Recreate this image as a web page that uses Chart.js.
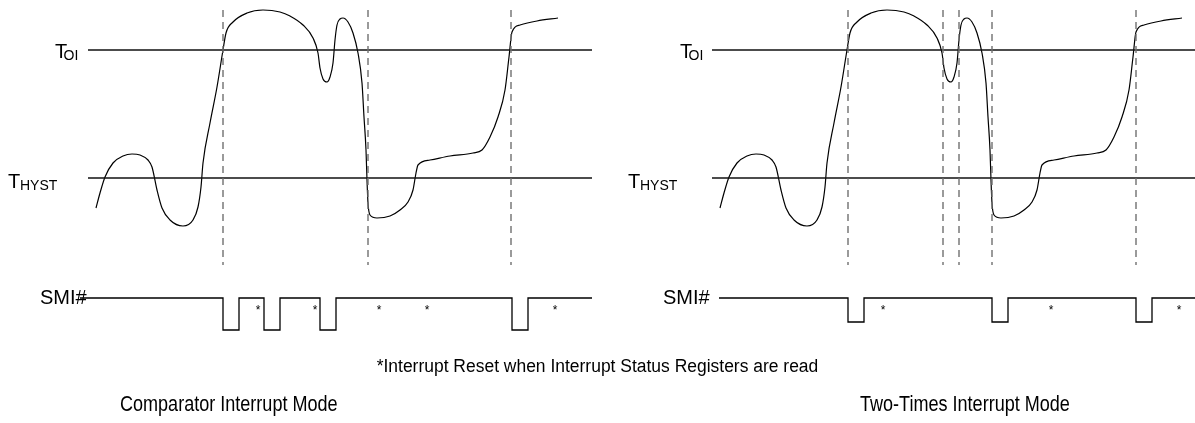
<!DOCTYPE html>
<html>
<head>
<meta charset="utf-8">
<script src="https://cdn.jsdelivr.net/npm/chart.js@4.4.1/dist/chart.umd.min.js"></script>
<style>
  body { margin: 0; background: #fff; }
  #wrap { position: relative; width: 1195px; height: 423px; font-family: "Liberation Sans", Arial, sans-serif; color: #000; }
  canvas { position: absolute; top: 0; }
  .txt { position: absolute; white-space: nowrap; }
  .title { font-size: 22px; transform: scaleX(0.82); transform-origin: left top; }
</style>
</head>
<body>
<div id="wrap">
  <canvas id="comp" width="600" height="423" style="left:0"></canvas>
  <canvas id="two" width="595" height="423" style="left:600px"></canvas>
  <div class="txt" style="left:0;width:1195px;top:356px;text-align:center;font-size:18px;transform:scaleX(0.97)">*Interrupt Reset when Interrupt Status Registers are read</div>
  <div class="txt title" style="left:120px;top:391px">Comparator Interrupt Mode</div>
  <div class="txt title" style="left:860px;top:391px">Two-Times Interrupt Mode</div>
</div>
<script>
// temperature trace (same in both modes): time vs level (level grows downward)
const tempTime  = [96,100,105,113,123,132,140,148,152,157,162,170,183,193,198,201,203,210,217,223,226,233,247,263,280,290,303,313,318,320,323,327,330,333,335,337,340,343,348,353,358,362,364,366,367,368,370,377,390,400,408,413,416,418,430,450,473,482,490,498,505,509,512,520,537,558];
const tempLevel = [208,193,177,163,156,154,155,160,167,190,208,220,226,220,207,187,163,123,87,50,33,22,13,10,12,16,25,38,53,68,79,82,77,63,40,25,19,18,22,33,53,83,117,150,180,203,215,218,216,210,202,190,173,165,160,156,153,150,137,117,90,57,32,25,21,18];

const T_OI = 50;
const T_HYST = 178;
const thresholdSpan = [88, 592];

const SMI_HIGH = 298;

// comparator mode
const compMarkers = [223, 368, 511];
const compPulses  = [223, 264, 320, 512];
const compStars   = [258, 315, 379, 427, 555];
const compSmiSpan = [80, 592];
const compSmiLow  = 330;

// two-times mode
const twoMarkers = [224, 319, 335, 368, 512];
const twoPulses  = [224, 368, 512];
const twoStars   = [259, 427, 555];
const twoSmiSpan = [95, 592];
const twoSmiLow  = 322;

const PULSE_W = 16;

const FONT = '"Liberation Sans", Arial, sans-serif';

const diagramText = {
  id: 'diagramText',
  afterDatasetsDraw(chart, args, opts) {
    const ctx = chart.ctx;
    const x = chart.scales.x, y = chart.scales.y;
    ctx.save();
    ctx.fillStyle = '#000';
    ctx.textBaseline = 'alphabetic';
    ctx.textAlign = 'left';
    const sub = (main, s, t, base, off) => {
      const px = x.getPixelForValue(t);
      ctx.font = '20px ' + FONT;
      ctx.fillText(main, px, y.getPixelForValue(base));
      ctx.font = '14px ' + FONT;
      ctx.fillText(s, px + off, y.getPixelForValue(base + 1.5));
    };
    sub('T', 'OI', opts.tOiX, T_OI + 8, 8.5);
    sub('T', 'HYST', opts.tHystX, T_HYST + 10, 12);
    ctx.font = '20px ' + FONT;
    ctx.fillText('SMI#', x.getPixelForValue(opts.smiX), y.getPixelForValue(SMI_HIGH + 6));
    ctx.font = '12px ' + FONT;
    ctx.textAlign = 'center';
    opts.stars.forEach(t => ctx.fillText('*', x.getPixelForValue(t), y.getPixelForValue(SMI_HIGH + 16)));
    ctx.restore();
  }
};

function smiPoints(span, pulses, low) {
  const pts = [{ x: span[0], y: SMI_HIGH }];
  pulses.forEach(p => {
    pts.push({ x: p, y: low });
    pts.push({ x: p + PULSE_W, y: SMI_HIGH });
  });
  pts.push({ x: span[1], y: SMI_HIGH });
  return pts;
}

function build(id, xMin, xMax, markers, pulses, stars, smiSpan, smiLow, labels) {
  const datasets = [];
  markers.forEach(m => datasets.push({
    data: [{ x: m, y: 10 }, { x: m, y: 265 }],
    borderColor: '#707070', borderWidth: 1.4, borderDash: [7, 5]
  }));
  [T_OI, T_HYST].forEach(lv => datasets.push({
    data: [{ x: thresholdSpan[0], y: lv }, { x: thresholdSpan[1], y: lv }],
    borderColor: '#111', borderWidth: 1.3
  }));
  datasets.push({
    data: tempTime.map((t, i) => ({ x: t, y: tempLevel[i] })),
    borderColor: '#000', borderWidth: 1.2, cubicInterpolationMode: 'monotone'
  });
  datasets.push({
    data: smiPoints(smiSpan, pulses, smiLow),
    borderColor: '#000', borderWidth: 1.3, stepped: 'before'
  });
  datasets.forEach(d => { d.showLine = true; d.pointRadius = 0; d.fill = false; });

  new Chart(document.getElementById(id), {
    type: 'scatter',
    data: { datasets },
    options: {
      responsive: false,
      animation: false,
      layout: { padding: 0 },
      events: [],
      plugins: {
        legend: { display: false },
        tooltip: { enabled: false },
        diagramText: Object.assign({ stars }, labels)
      },
      scales: {
        x: { type: 'linear', display: false, min: xMin, max: xMax },
        y: { type: 'linear', display: false, min: 0, max: 423, reverse: true }
      }
    },
    plugins: [diagramText]
  });
}

build('comp', 0, 600, compMarkers, compPulses, compStars, compSmiSpan, compSmiLow,
  { tOiX: 55, tHystX: 8, smiX: 40 });
build('two', -24, 571, twoMarkers, twoPulses, twoStars, twoSmiSpan, twoSmiLow,
  { tOiX: 56, tHystX: 4, smiX: 39 });
</script>
</body>
</html>
